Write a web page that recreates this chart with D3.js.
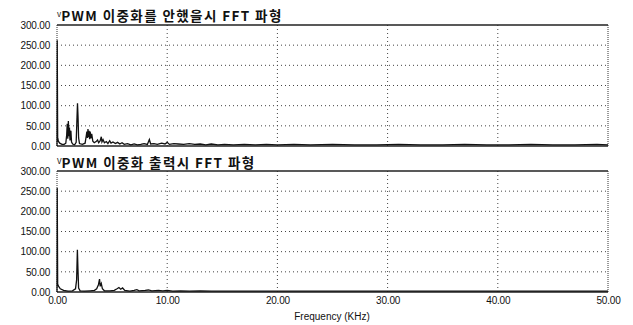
<!DOCTYPE html>
<html>
<head>
<meta charset="utf-8">
<script src="https://cdn.jsdelivr.net/npm/d3@7"></script>
<style>
  body { margin: 0; background: #fff; }
  svg { display: block; }
</style>
</head>
<body>
<svg id="chart" width="633" height="325"></svg>
<script>
// tick values
var yTicks = [0, 50, 100, 150, 200, 250, 300]
var xTicks = [0, 10, 20, 30, 40, 50]

var titles = ["PWM 이중화를 안했을시 FFT 파형", "PWM 이중화 출력시 FFT 파형"]

// spectrum without redundancy: [freq kHz, amplitude]
var specTop = [[0,0],[0.02,262],[0.06,22],[0.12,12],[0.25,7],[0.45,4],[0.65,4],[0.8,7],
  [0.88,28],[0.93,55],[0.98,18],[1.03,62],[1.08,24],[1.13,46],[1.18,14],[1.26,38],[1.32,10],
  [1.42,5],[1.6,3],[1.74,9],[1.8,58],[1.86,106],[1.91,72],[1.96,20],[2.04,6],[2.3,4],
  [2.55,7],[2.66,26],[2.71,36],[2.76,20],[2.81,42],[2.86,22],[2.91,38],[2.96,17],[3.01,36],
  [3.07,19],[3.15,30],[3.25,12],[3.38,8],[3.55,11],[3.68,15],[3.78,8],[3.92,13],[4.02,23],
  [4.08,10],[4.18,16],[4.3,8],[4.48,11],[4.62,6],[4.78,13],[4.9,7],[5.08,10],[5.3,6],
  [5.5,9],[5.7,5],[5.9,8],[6.1,4],[6.4,6],[6.7,3],[7.0,5],[7.3,3],[7.6,4],[7.9,6],[8.2,4],
  [8.38,16],[8.5,5],[8.8,6],[9.1,4],[9.5,7],[9.8,5],[10.0,9],[10.2,4],[10.6,6],[11.0,5],
  [11.5,4],[12.0,6],[12.5,4],[13.0,5],[13.5,3],[14.0,5],[14.6,3],[15.2,4],[16.0,3],
  [17.0,4],[18.0,3],[19.0,4],[20.0,3],[21.5,4],[23.0,3],[25.0,4],[27.0,3],[29.0,3],
  [31.0,4],[33.0,3],[35.0,3],[37.0,4],[39.0,3],[41.0,3],[43.0,4],[45.0,3],[47.0,3],
  [49.0,4],[50.0,3]]

// spectrum with redundant output
var specBot = [[0,0],[0.02,258],[0.06,20],[0.12,15],[0.3,8],[0.6,4],[1.0,2],[1.4,3],
  [1.68,8],[1.78,30],[1.85,105],[1.9,58],[1.96,10],[2.1,3],[2.5,2],[3.0,3],[3.4,4],
  [3.6,8],[3.76,18],[3.86,32],[3.92,14],[4.02,21],[4.12,8],[4.3,3],[4.8,3],[5.2,4],
  [5.45,8],[5.62,11],[5.78,7],[5.95,10],[6.15,4],[6.6,2],[7.0,4],[7.25,6],[7.45,3],
  [8.0,4],[8.3,5],[8.6,3],[9.2,4],[9.6,3],[10.0,4],[10.5,2],[11.2,3],[12.0,2],[13.0,3],
  [14.0,2],[16.0,2],[18.0,2],[20.0,2],[23.0,2],[26.0,2],[30.0,2],[34.0,2],[38.0,2],
  [42.0,2],[46.0,2],[50.0,2]]

var svg = d3.select("#chart")
var left = 57, right = 608

var x = d3.scaleLinear().domain([0, 50]).range([left, right])

var panels = [
  {top: 25, bottom: 146, data: specTop, title: titles[0], titleY: 21},
  {top: 171, bottom: 292, data: specBot, title: titles[1], titleY: 168}
]

panels.forEach(function(p, i) {
  var y = d3.scaleLinear().domain([0, 300]).range([p.bottom, p.top])
  var g = svg.append("g")

  // grid
  g.selectAll(".hg").data(yTicks.slice(1, -1)).enter().append("line")
    .attr("x1", left).attr("x2", right)
    .attr("y1", function(d) { return y(d) }).attr("y2", function(d) { return y(d) })
    .attr("stroke", "#444").attr("stroke-width", 1).attr("stroke-dasharray", "1,3")
  g.selectAll(".vg").data(xTicks.slice(1, -1)).enter().append("line")
    .attr("y1", p.top).attr("y2", p.bottom)
    .attr("x1", function(d) { return x(d) }).attr("x2", function(d) { return x(d) })
    .attr("stroke", "#444").attr("stroke-width", 1).attr("stroke-dasharray", "1,3")

  // frame
  g.append("line").attr("x1", left).attr("x2", right).attr("y1", p.top).attr("y2", p.top)
    .attr("stroke", "#222").attr("stroke-width", 1.3)
  g.append("line").attr("x1", left).attr("x2", right).attr("y1", p.bottom).attr("y2", p.bottom)
    .attr("stroke", "#222").attr("stroke-width", 1.5)
  g.append("line").attr("x1", left).attr("x2", left).attr("y1", p.top).attr("y2", p.bottom)
    .attr("stroke", "#333").attr("stroke-dasharray", "1,1")
  g.append("line").attr("x1", right).attr("x2", right).attr("y1", p.top).attr("y2", p.bottom)
    .attr("stroke", "#333").attr("stroke-dasharray", "1,1")

  // y axis labels
  var ya = g.append("g").attr("transform", "translate(" + (left - 4) + ",0)")
    .call(d3.axisLeft(y).tickValues(yTicks).tickSize(0).tickFormat(d3.format(".2f")))
  ya.select(".domain").remove()
  ya.selectAll("text").attr("font-family", "Liberation Sans, Arial, sans-serif")
    .attr("font-size", 10).attr("fill", "#111").attr("letter-spacing", -0.2)

  // spectrum
  var line = d3.line().x(function(d) { return x(d[0]) }).y(function(d) { return y(d[1]) })
  g.append("path").datum(p.data).attr("d", line)
    .attr("fill", "none").attr("stroke", "#111").attr("stroke-width", 1.3)

  // title
  var t = g.append("text").attr("x", left).attr("y", p.titleY)
    .attr("font-family", "Noto Sans CJK KR, sans-serif").attr("font-weight", "bold")
    .attr("font-size", 13.5).attr("fill", "#111").attr("letter-spacing", 1.4)
  t.append("tspan").attr("font-size", 8).attr("font-weight", "normal").attr("dy", -4)
    .attr("letter-spacing", 0).text(i == 0 ? "v" : "V")
  t.append("tspan").attr("dy", 4).text(p.title)

  if (i == 1) {
    var xa = g.append("g").attr("transform", "translate(0," + (p.bottom + 2) + ")")
      .call(d3.axisBottom(x).tickValues(xTicks).tickSize(0).tickFormat(d3.format(".2f")))
    xa.select(".domain").remove()
    xa.selectAll("text").attr("font-family", "Liberation Sans, Arial, sans-serif")
      .attr("font-size", 10).attr("fill", "#111").attr("letter-spacing", -0.2)
  }
})

svg.append("text").attr("x", 332).attr("y", 320).attr("text-anchor", "middle")
  .attr("font-family", "Liberation Sans, Arial, sans-serif").attr("font-size", 10)
  .attr("fill", "#111").text("Frequency (KHz)")
</script>
</body>
</html>
